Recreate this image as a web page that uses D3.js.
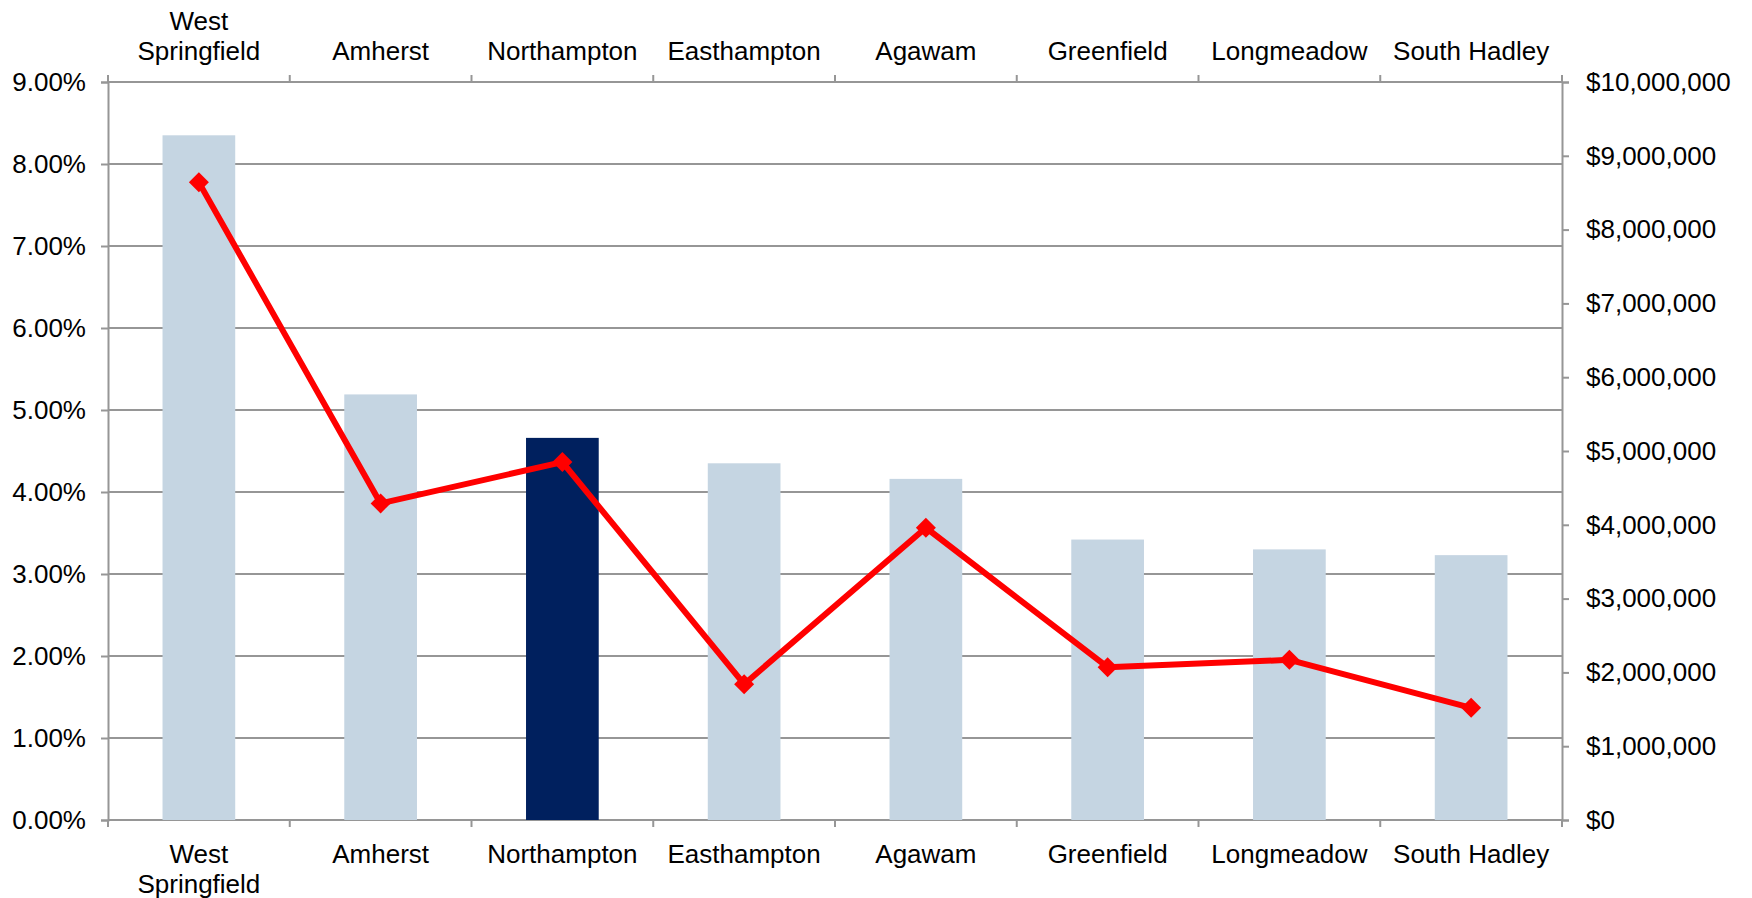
<!DOCTYPE html>
<html>
<head>
<meta charset="utf-8">
<script src="https://cdn.jsdelivr.net/npm/d3@7"></script>
<style>
  html, body { margin: 0; padding: 0; background: #fff; }
  svg { display: block; font-family: "Liberation Sans", Arial, sans-serif; }
</style>
</head>
<body>
<div id="chart"></div>
<script>
// Bars on the left (% axis), red line on the right ($ axis).

const towns = ['West Springfield', 'Amherst', 'Northampton', 'Easthampton',
               'Agawam', 'Greenfield', 'Longmeadow', 'South Hadley'];
const townLines = [['West', 'Springfield'], ['Amherst'], ['Northampton'], ['Easthampton'],
                   ['Agawam'], ['Greenfield'], ['Longmeadow'], ['South Hadley']];
const pctValues = [0.0835, 0.0519, 0.0466, 0.0435, 0.0416, 0.0342, 0.0330, 0.0323];
const dollarValues = [8640000, 4290000, 4850000, 1840000, 3960000, 2070000, 2170000, 1520000];
const highlightTown = 'Northampton';
const pctTicks = [0, 0.01, 0.02, 0.03, 0.04, 0.05, 0.06, 0.07, 0.08, 0.09];
const dollarTicks = [0, 1e6, 2e6, 3e6, 4e6, 5e6, 6e6, 7e6, 8e6, 9e6, 1e7];

const W = 1752, H = 898;
const M = { top: 82, right: 190, bottom: 78, left: 108 };
const FONT = 26;
const GRID = '#969696';

const svg = d3.select('#chart').append('svg')
    .attr('width', W).attr('height', H)
    .attr('viewBox', `0 0 ${W} ${H}`);

const x = d3.scaleBand()
    .domain(towns)
    .range([M.left, W - M.right])
    .paddingInner(0.6)
    .paddingOuter(0.3);
const yL = d3.scaleLinear().domain([0, 0.09]).range([H - M.bottom, M.top]);
const yR = d3.scaleLinear().domain([0, 1e7]).range([H - M.bottom, M.top]);

const step = x.step();
const boundaries = d3.range(towns.length + 1).map((i) => M.left + i * step);

// gridlines (behind bars)
svg.append('g').attr('class', 'grid')
    .selectAll('line')
    .data(pctTicks)
    .enter().append('line')
    .attr('x1', M.left).attr('x2', W - M.right)
    .attr('y1', (d) => yL(d)).attr('y2', (d) => yL(d))
    .attr('stroke', GRID).attr('stroke-width', 2);

// bars
svg.append('g').attr('class', 'bars')
    .selectAll('rect')
    .data(towns)
    .enter().append('rect')
    .attr('x', (d) => x(d))
    .attr('width', x.bandwidth())
    .attr('y', (d, i) => yL(pctValues[i]))
    .attr('height', (d, i) => yL(0) - yL(pctValues[i]))
    .attr('fill', (d) => d === highlightTown ? '#00205E' : '#C5D5E2');

// left axis
const leftAxis = svg.append('g')
    .attr('transform', `translate(${M.left},0)`)
    .call(d3.axisLeft(yL).tickValues(pctTicks).tickSize(7).tickPadding(15)
        .tickFormat((d) => (d * 100).toFixed(2) + '%'));

// right axis
const rightAxis = svg.append('g')
    .attr('transform', `translate(${W - M.right},0)`)
    .call(d3.axisRight(yR).tickValues(dollarTicks).tickSize(7).tickPadding(17)
        .tickFormat((d) => '$' + d3.format(',')(d)));

[leftAxis, rightAxis].forEach((g) => {
    g.select('.domain').attr('stroke', GRID).attr('stroke-width', 2);
    g.selectAll('.tick line').attr('stroke', GRID).attr('stroke-width', 2);
    g.selectAll('.tick text').attr('font-size', FONT).attr('fill', '#000')
        .attr('font-family', '"Liberation Sans", Arial, sans-serif');
});

// category ticks, top and bottom
const catTicks = svg.append('g').attr('class', 'cat-ticks');
catTicks.selectAll('line.top')
    .data(boundaries)
    .enter().append('line')
    .attr('x1', (d) => d).attr('x2', (d) => d)
    .attr('y1', M.top - 7).attr('y2', M.top)
    .attr('stroke', GRID).attr('stroke-width', 2);
catTicks.selectAll('line.bot')
    .data(boundaries)
    .enter().append('line')
    .attr('x1', (d) => d).attr('x2', (d) => d)
    .attr('y1', H - M.bottom).attr('y2', H - M.bottom + 7)
    .attr('stroke', GRID).attr('stroke-width', 2);

// category labels: bottom ones hang down, top ones stack upward
const LINE_H = 30;
const labels = svg.append('g').attr('class', 'cat-labels')
    .attr('font-size', FONT).attr('fill', '#000').attr('text-anchor', 'middle');

labels.selectAll('text.bottom')
    .data(towns)
    .enter().append('text')
    .attr('class', 'bottom')
    .attr('x', (d) => x(d) + x.bandwidth() / 2)
    .attr('y', H - M.bottom + 43)
    .each(function (d, i) {
        const t = d3.select(this);
        townLines[i].forEach((ln, j) => {
            t.append('tspan')
                .attr('x', x(d) + x.bandwidth() / 2)
                .attr('dy', j === 0 ? 0 : LINE_H)
                .text(ln);
        });
    });

labels.selectAll('text.top')
    .data(towns)
    .enter().append('text')
    .attr('class', 'top')
    .attr('x', (d) => x(d) + x.bandwidth() / 2)
    .attr('y', (d, i) => M.top - 22 - (townLines[i].length - 1) * LINE_H)
    .each(function (d, i) {
        const t = d3.select(this);
        townLines[i].forEach((ln, j) => {
            t.append('tspan')
                .attr('x', x(d) + x.bandwidth() / 2)
                .attr('dy', j === 0 ? 0 : LINE_H)
                .text(ln);
        });
    });

// dollar line with diamond markers
const cx = (d) => x(d) + x.bandwidth() / 2;
const line = d3.line()
    .x((d, i) => cx(towns[i]))
    .y((d) => yR(d));

svg.append('path')
    .datum(dollarValues)
    .attr('fill', 'none')
    .attr('stroke', '#FF0000')
    .attr('stroke-width', 6)
    .attr('stroke-linejoin', 'round')
    .attr('d', line);

svg.append('g').attr('class', 'markers')
    .selectAll('path')
    .data(dollarValues)
    .enter().append('path')
    .attr('d', d3.symbol().type(d3.symbolSquare).size(200))
    .attr('transform', (d, i) => `translate(${cx(towns[i])},${yR(d)}) rotate(45)`)
    .attr('fill', '#FF0000');
</script>
</body>
</html>
